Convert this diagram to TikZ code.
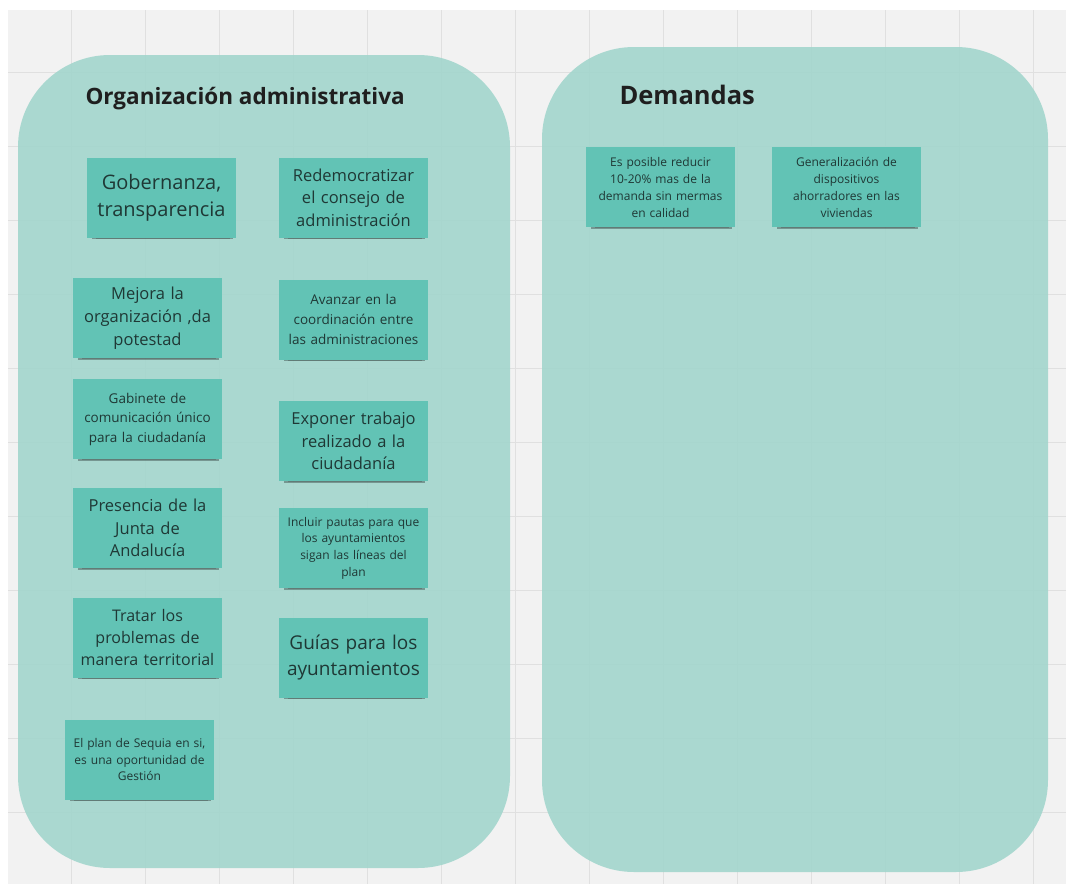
\documentclass[tikz,border=0pt]{standalone}
\usepackage{fontspec}
\setmainfont{Open Sans}
\usetikzlibrary{shadows}
\definecolor{lienzo}{HTML}{F2F2F2}
\definecolor{rejilla}{HTML}{E0E0E0}
\definecolor{fondopanel}{RGB}{163,214,205}
\definecolor{verdenota}{HTML}{62C3B5}
\definecolor{tinta}{HTML}{1F3835}

\begin{document}
\begin{tikzpicture}[x=1pt, y=-1pt,
	panel/.style={fill=fondopanel, fill opacity=0.9, rounded corners=92pt},
	nota/.style={fill=verdenota, minimum width=149pt, minimum height=80pt, text width=147pt,
		align=center, inner sep=0pt, text=tinta,
		drop shadow={shadow xshift=1.5pt, shadow yshift=-6pt, shadow scale=0.9, opacity=0.18, fill=black},
		drop shadow={shadow xshift=1pt, shadow yshift=-4pt, shadow scale=0.95, opacity=0.3, fill=black}},
	titulo/.style={anchor=west, font=\fontsize{22.5}{27}\selectfont\bfseries, text=black!88}]
	\useasboundingbox (0,0) rectangle (1066,884);
	% canvas and grid
	\fill[lienzo] (8,10) rectangle (1066,884);
	\foreach \gx in {0,...,13} {
		\draw[rejilla, line width=0.8pt] ({71+74*\gx},10) -- ({71+74*\gx},884);
		}
	\foreach \gy in {0,...,10} {
		\draw[rejilla, line width=0.8pt] (8,{72+74*\gy}) -- (1066,{72+74*\gy});
		}
	% two frames
	\fill[panel] (18,55) rectangle (510,868);
	\fill[panel] (542,47) rectangle (1048,872);
	\node[titulo] (titOrg) at (82,99) {Organización administrativa};
	\node[titulo, font=\fontsize{25.5}{30}\selectfont\bfseries] (titDem) at (616,95) {Demandas};
	% sticky notes
	\foreach \N/\X/\Y/\F/\B/\T in {
		gob/161.5/197.5/20/27/{Gobernanza,\\transparencia},
		redemo/353.5/197.5/16.5/22.5/{Redemocratizar\\el consejo de\\administración},
		mejora/147.5/318/16.5/23/{Mejora la\\organización ,da\\potestad},
		avanzar/353.5/319.5/13.5/20/{Avanzar en la\\coordinación entre\\las administraciones},
		gabinete/147.5/419/13.5/19.5/{Gabinete de\\comunicación único\\para la ciudadanía},
		exponer/353.5/441/16.5/22.5/{Exponer trabajo\\realizado a la\\ciudadanía},
		presencia/147.5/528/16.5/22.5/{Presencia de la\\Junta de\\Andalucía},
		incluir/353.5/548/12/16.7/{Incluir pautas para que\\los ayuntamientos\\sigan las líneas del\\plan},
		tratar/147.5/637.5/16/22/{Tratar los\\problemas de\\manera territorial},
		guias/353.5/657.5/19/25.7/{Guías para los\\ayuntamientos},
		plan/139.5/759.5/12/16.3/{El plan de Sequia en si,\\es una oportunidad de\\Gestión},
		reducir/660.5/187/12/17/{Es posible reducir\\10-20\% mas de la\\demanda sin mermas\\en calidad},
		dispositivos/846.5/187/12/17/{Generalización de\\dispositivos\\ahorradores en las\\viviendas}
		} {
		\node[nota, font=\fontsize{\F}{\B}\selectfont](nota\N) at (\X,\Y) {\T};
		}
\end{tikzpicture}
\end{document}
